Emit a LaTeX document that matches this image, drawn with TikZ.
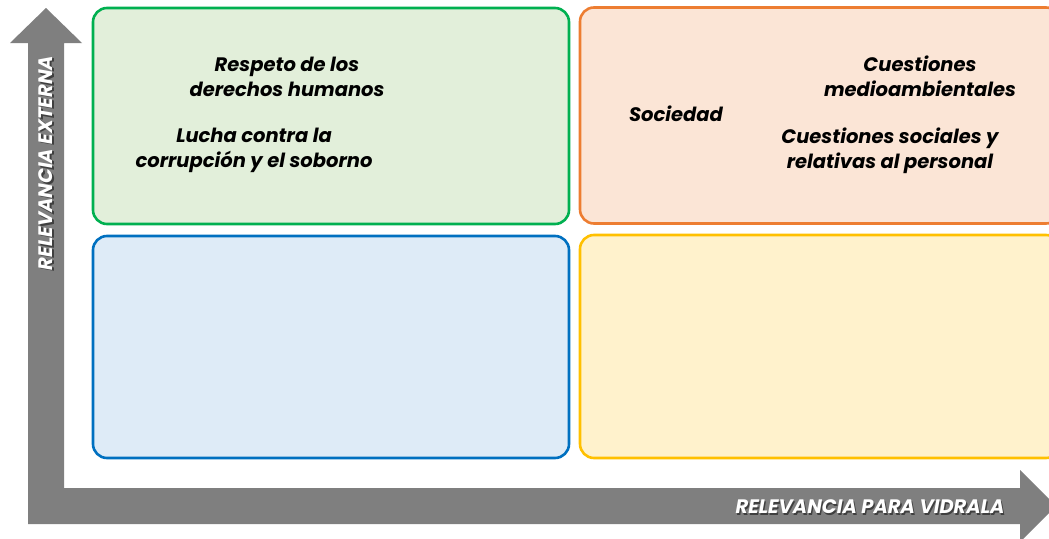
\documentclass[tikz,border=0pt]{standalone}
\usepackage{fontspec}
\setmainfont{Poppins}
\definecolor{axisgray}{HTML}{7F7F7F}
\definecolor{gline}{HTML}{00B050}\definecolor{gfill}{HTML}{E2EFDA}
\definecolor{oline}{HTML}{ED7D31}\definecolor{ofill}{HTML}{FBE5D6}
\definecolor{bline}{HTML}{0070C0}\definecolor{bfill}{HTML}{DEEBF7}
\definecolor{yline}{HTML}{FFC000}\definecolor{yfill}{HTML}{FFF2CC}
\tikzset{
  quad/.style={draw=#1line, fill=#1fill, line width=2.6pt, rounded corners=14pt, inner sep=0pt},
  topic/.style={align=center, font=\fontsize{19.5}{25}\selectfont\bfseries\itshape, text=black, inner sep=0pt},
  axislbl/.style={font=\fontsize{19.5}{21}\selectfont\bfseries\itshape, inner sep=0pt},
}
\begin{document}
\begin{tikzpicture}[x=1pt,y=-1pt]
\useasboundingbox (0,0) rectangle (1049,538);
\begin{scope}
\clip (0,0) rectangle (1049,538);
% axes
\fill[axisgray] (28,524) -- (28,43) -- (10,43) -- (46,8) -- (82,43) -- (64,43) -- (64,488)
  -- (1020,488) -- (1020,470) -- (1056,506) -- (1020,542) -- (1020,524) -- cycle;
% quadrants
\node[quad=g, minimum width=476pt, minimum height=216pt] (qg) at (331,116) {};
\node[quad=o, minimum width=480pt, minimum height=216pt] (qo) at (820,115.5) {};
\node[quad=b, minimum width=476pt, minimum height=222pt] (qb) at (331,347) {};
\node[quad=y, minimum width=480pt, minimum height=223pt] (qy) at (820,346.5) {};
\end{scope}
% texts
\node[topic] (t1) at (287,76.5) {Respeto de los\\derechos humanos};
\node[topic] (t2) at (254,150) {Lucha contra la\\corrupción y el soborno};
\node[topic] (t3) at (676,114) {Sociedad};
\node[topic] (t4) at (920,76.5) {Cuestiones\\medioambientales};
\node[topic] (t5) at (890,150.5) {Cuestiones sociales y\\relativas al personal};
% axis labels
\node[axislbl, text=black, opacity=0.5, rotate=90] at (47.3,164.3) {RELEVANCIA EXTERNA};
\node[axislbl, text=white, rotate=90] (ly) at (46,163) {RELEVANCIA EXTERNA};
\node[axislbl, text=black, opacity=0.5] at (871.3,508.3) {RELEVANCIA PARA VIDRALA};
\node[axislbl, text=white] (lx) at (870,507) {RELEVANCIA PARA VIDRALA};
\end{tikzpicture}
\end{document}
